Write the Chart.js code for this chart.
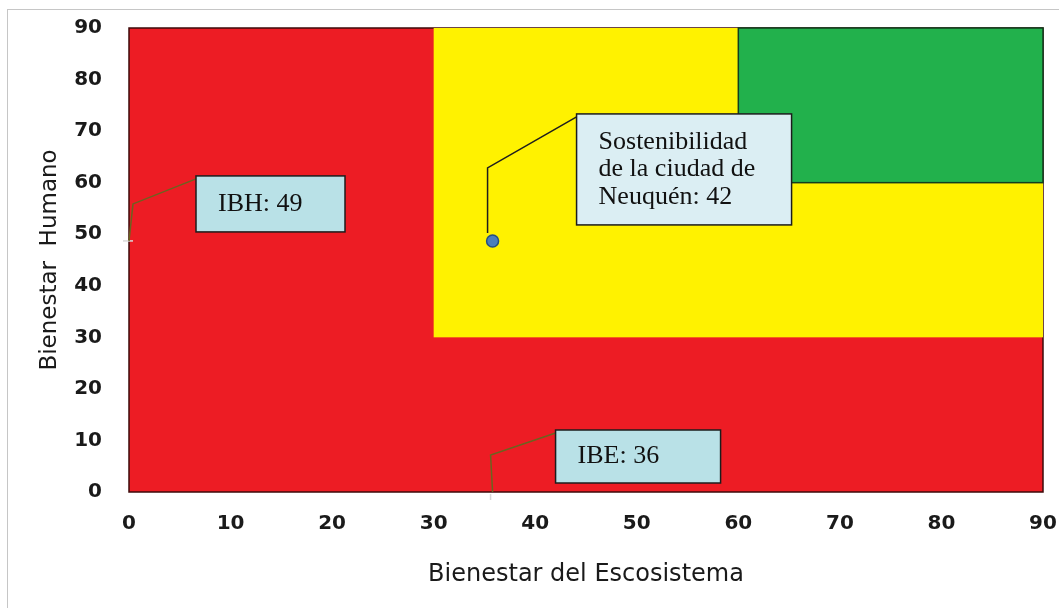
<!DOCTYPE html>
<html>
<head>
<meta charset="utf-8">
<script src="https://cdn.jsdelivr.net/npm/chart.js@4"></script>
<style>
  html, body { margin: 0; padding: 0; background: #fff; overflow: hidden; }
  #wrap { position: relative; width: 1059px; height: 608px; }
  #marco { position: absolute; left: 7px; top: 9px; width: 1060px; height: 610px; border: 1px solid #c6c6c6; }
  #grafico { position: absolute; left: 0; top: 0; }
</style>
</head>
<body>
<div id="wrap">
  <div id="marco"></div>
  <canvas id="grafico" width="1059" height="608"></canvas>
</div>
<script>
// Ejes
const ejeMin = 0;
const ejeMax = 90;
const paso = 10;

// Zonas de sostenibilidad (esquina inferior izquierda; todas llegan a 90,90)
const zonaNombres = ['Insostenible', 'Intermedia', 'Sostenible'];
const zonaDesdeX = [0, 30, 60];
const zonaDesdeY = [0, 30, 60];
const zonaColores = ['#ed1c24', '#fff200', '#22b14c'];
const zonaBordes = ['#3d0a0a', null, '#123d1e'];

// Punto de la ciudad
const ibe = 35.8;   // Bienestar del Escosistema
const ibh = 48.7;   // Bienestar Humano

// Etiquetas de las llamadas
const textoIBH = ['IBH: 49'];
const textoIBE = ['IBE: 36'];
const textoCiudad = ['Sostenibilidad', 'de la ciudad de', 'Neuquén: 42'];

// Zonas dibujadas detras del punto
const zonasPlugin = {
    id: 'zonas',
    beforeDatasetsDraw(chart) {
        const { ctx, scales: { x, y } } = chart;
        ctx.save();
        zonaDesdeX.forEach((x0, i) => {
            const left = x.getPixelForValue(x0);
            const right = x.getPixelForValue(ejeMax);
            const top = y.getPixelForValue(ejeMax);
            const bottom = y.getPixelForValue(zonaDesdeY[i]);
            ctx.fillStyle = zonaColores[i];
            ctx.fillRect(left, top, right - left, bottom - top);
            if (zonaBordes[i]) {
                ctx.strokeStyle = zonaBordes[i];
                ctx.lineWidth = 1.5;
                ctx.strokeRect(left, top, right - left, bottom - top);
            }
        });
        ctx.restore();
    }
};

// Llamadas con linea guia
const llamadas = [
    { ax: 0, ay: ibh, codo: [4, -37], caja: [67, -65, 149, 56], lineas: textoIBH, fondo: '#b9e1e7', guia: '#6b6420', marca: 'h' },
    { ax: ibe, ay: 0, codo: [-2, -37], caja: [63, -62, 165, 53], lineas: textoIBE, fondo: '#b9e1e7', guia: '#6b6420', marca: 'v' },
    { ax: ibe, ay: ibh, codo: [-5, -73], caja: [84, -127, 215, 111], lineas: textoCiudad, fondo: '#dbeef3', guia: '#1e1e1e', inicio: [-5, -8] }
];

const llamadasPlugin = {
    id: 'llamadas',
    afterDatasetsDraw(chart) {
        const { ctx, scales: { x, y } } = chart;
        ctx.save();
        llamadas.forEach(l => {
            const px = x.getPixelForValue(l.ax);
            const py = y.getPixelForValue(l.ay);
            const bx = px + l.caja[0];
            const by = py + l.caja[1];
            const ini = l.inicio || [0, 0];

            // marca pequeña sobre el eje
            ctx.strokeStyle = '#d8d8d8';
            ctx.lineWidth = 1.5;
            ctx.beginPath();
            if (l.marca === 'h') { ctx.moveTo(px - 6, py); ctx.lineTo(px + 4, py); }
            if (l.marca === 'v') { ctx.moveTo(px - 2, py + 2); ctx.lineTo(px - 2, py + 8); }
            ctx.stroke();

            // linea guia
            ctx.strokeStyle = l.guia;
            ctx.lineWidth = 1.5;
            ctx.beginPath();
            ctx.moveTo(px + ini[0], py + ini[1]);
            ctx.lineTo(px + l.codo[0], py + l.codo[1]);
            ctx.lineTo(bx, by + 3);
            ctx.stroke();

            // caja
            ctx.fillStyle = l.fondo;
            ctx.fillRect(bx, by, l.caja[2], l.caja[3]);
            ctx.strokeStyle = '#1c1c1c';
            ctx.lineWidth = 1.5;
            ctx.strokeRect(bx, by, l.caja[2], l.caja[3]);

            // texto
            ctx.fillStyle = '#111';
            ctx.font = '26px "Liberation Serif", serif';
            ctx.textAlign = 'left';
            ctx.textBaseline = 'middle';
            const alto = 27.5;
            const y0 = by + l.caja[3] / 2 - (l.lineas.length - 1) * alto / 2;
            l.lineas.forEach((t, k) => {
                ctx.fillText(t, bx + 22, y0 + k * alto);
            });
        });
        ctx.restore();
    }
};

// quita el margen extra que Chart.js reserva para las etiquetas de los extremos
function sinMargen(scale) {
    scale.paddingTop = 0;
    scale.paddingBottom = 0;
    scale.paddingLeft = 0;
    scale.paddingRight = 0;
}

new Chart(document.getElementById('grafico'), {
    type: 'scatter',
    data: {
        datasets: [{
            label: 'Neuquén',
            data: [{ x: ibe, y: ibh }],
            pointRadius: 6,
            pointBackgroundColor: '#4a7ebb',
            pointBorderColor: '#254f80',
            pointBorderWidth: 1.5
        }]
    },
    options: {
        responsive: false,
        animation: false,
        layout: { padding: { left: 0, top: 28, right: 16, bottom: 0 } },
        plugins: {
            legend: { display: false },
            tooltip: { enabled: false }
        },
        scales: {
            x: {
                type: 'linear',
                min: ejeMin,
                max: ejeMax,
                grid: { display: false, drawTicks: false },
                border: { display: false },
                ticks: {
                    stepSize: paso,
                    padding: 20,
                    color: '#1a1a1a',
                    font: { family: 'DejaVu Sans', size: 20, weight: 'bold' }
                },
                title: {
                    display: true,
                    text: 'Bienestar del Escosistema',
                    color: '#1a1a1a',
                    font: { family: 'DejaVu Sans', size: 24 },
                    padding: { top: 0, bottom: 19 }
                },
                afterFit(scale) { scale.height = 116; sinMargen(scale); }
            },
            y: {
                type: 'linear',
                min: ejeMin,
                max: ejeMax,
                grid: { display: false, drawTicks: false },
                border: { display: false },
                ticks: {
                    stepSize: paso,
                    padding: 27,
                    color: '#1a1a1a',
                    font: { family: 'DejaVu Sans', size: 20, weight: 'bold' }
                },
                title: {
                    display: true,
                    text: 'Bienestar  Humano',
                    color: '#1a1a1a',
                    font: { family: 'DejaVu Sans', size: 23 },
                    padding: { top: 36, bottom: 0 }
                },
                afterFit(scale) { scale.width = 129; sinMargen(scale); }
            }
        }
    },
    plugins: [zonasPlugin, llamadasPlugin]
});
</script>
</body>
</html>
